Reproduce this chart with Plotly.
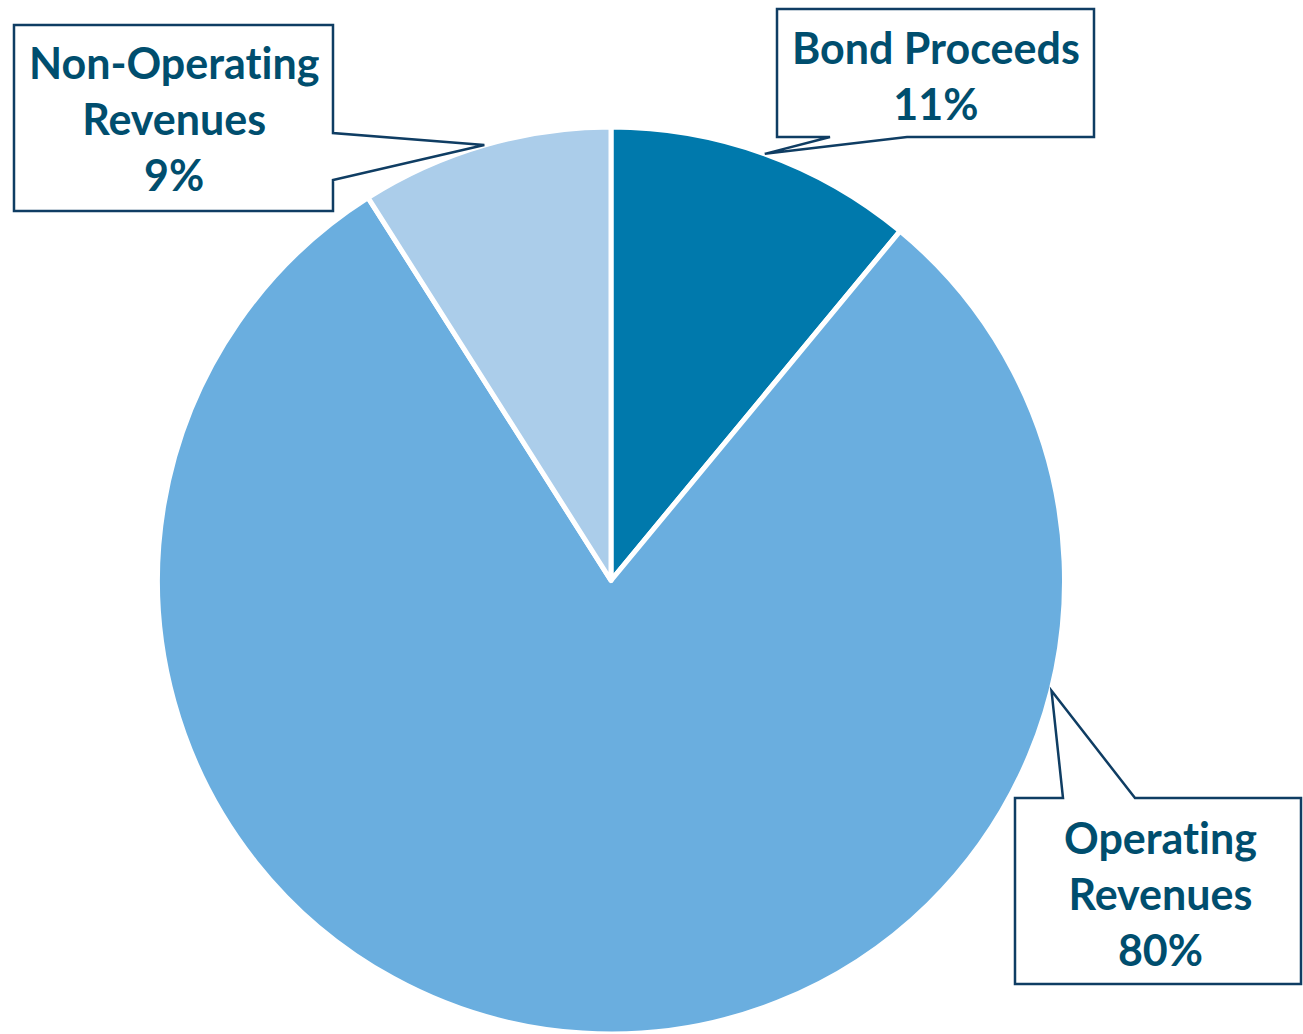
import math
import plotly.graph_objects as go

# ---- data ----
labels = ["Bond Proceeds", "Operating Revenues", "Non-Operating Revenues"]
label_lines = [["Bond Proceeds"], ["Operating", "Revenues"], ["Non-Operating", "Revenues"]]
values = [11, 80, 9]
colors = ["#0079AC", "#6AAEDF", "#ABCDEA"]

W, H = 1303, 1034
CX, CY, R = 611, 581, 451  # pie geometry in pixels
RD = R + 3  # domain half-size (plotly draws slightly inside the domain)

fig = go.Figure(go.Pie(
    labels=labels, values=values, sort=False, direction="clockwise", rotation=0,
    marker=dict(colors=colors, line=dict(color="white", width=5)),
    textinfo="none", hoverinfo="label+percent", showlegend=False,
    domain=dict(x=[(CX - RD) / W, (CX + RD) / W], y=[max(0, 1 - (CY + RD) / H), 1 - (CY - RD) / H]),
))

def px(x, y):
    return x / W, 1 - y / H

total = sum(values)
cum = 0
mid_angles = []
for v in values:
    mid_angles.append((cum + v / 2) / total * 360)
    cum += v

# callout geometry: box (x0,y0,x1,y1), wedge side, wedge base points, tip angle override
callouts = [
    dict(box=(777, 9, 1094, 137), side="bottom", base=(830, 907), tip_angle=None, tcx=936, tcy=75),
    dict(box=(1015, 798, 1301, 984), side="top", base=(1063, 1135), tip_angle=104, tcx=1160, tcy=893),
    dict(box=(14, 25, 333, 211), side="right", base=(133, 180), tip_angle=None, tcx=174, tcy=119),
]

NOLIG = "font-variant-ligatures:none;font-feature-settings:'liga' 0"

shapes = []
annotations = []
for i, c in enumerate(callouts):
    ang = c["tip_angle"] if c["tip_angle"] is not None else mid_angles[i]
    a = math.radians(ang)
    tr = R + 3
    tx, ty = CX + tr * math.sin(a), CY - tr * math.cos(a)
    x0, y0, x1, y1 = c["box"]
    b0, b1 = c["base"]
    if c["side"] == "bottom":
        pts = [(x0, y0), (x1, y0), (x1, y1), (b1, y1), (tx, ty), (b0, y1), (x0, y1)]
    elif c["side"] == "top":
        pts = [(x0, y0), (b0, y0), (tx, ty), (b1, y0), (x1, y0), (x1, y1), (x0, y1)]
    else:  # right
        pts = [(x0, y0), (x1, y0), (x1, b0), (tx, ty), (x1, b1), (x1, y1), (x0, y1)]
    path = "M " + " L ".join(f"{px(x, y)[0]:.5f},{px(x, y)[1]:.5f}" for x, y in pts) + " Z"
    shapes.append(dict(type="path", xref="paper", yref="paper", path=path,
                       fillcolor="white", line=dict(color="#0F3D63", width=2.5)))
    pct = round(values[i] / total * 100)
    lines = [f'<span style="{NOLIG}">{s}</span>' for s in label_lines[i]] + [f"{pct}%"]
    text = "<br>".join(lines)
    ax, ay = px(c["tcx"], c["tcy"])
    annotations.append(dict(x=ax, y=ay, xref="paper", yref="paper", text=text,
                            showarrow=False, xanchor="center", yanchor="middle",
                            align="center",
                            font=dict(family="Lato", size=43, color="#004E6E", weight="bold")))

fig.update_layout(
    width=W, height=H, margin=dict(l=0, r=0, t=0, b=0),
    paper_bgcolor="white", plot_bgcolor="white",
    shapes=shapes, annotations=annotations,
)

fig.write_html("out.html", config={"displayModeBar": False},
               post_script="document.body.style.margin='0';")
